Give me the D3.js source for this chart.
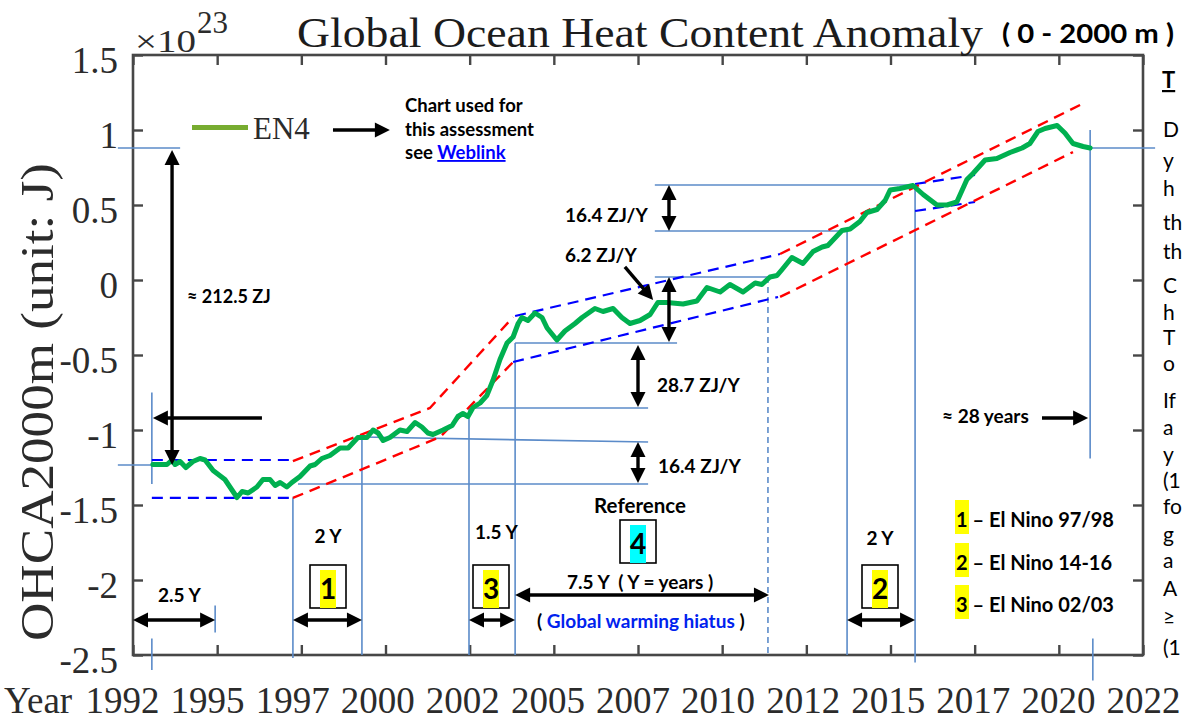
<!DOCTYPE html>
<html>
<head>
<meta charset="utf-8">
<script src="https://cdn.jsdelivr.net/npm/d3@7"></script>
<style>
  html, body { margin: 0; padding: 0; background: #fff; overflow: hidden; }
  svg { display: block; }
</style>
</head>
<body>
<svg id="chart" width="1185" height="722"></svg>
<script>
// EN4 global ocean heat content anomaly, 0-2000 m (units of 1e23 J)
const en4Years = [
  1993.09,1993.51,1993.66,1993.75,1993.90,1994.07,1994.28,1994.49,1994.64,1994.88,
  1995.23,1995.44,1995.59,1995.74,1995.92,1996.18,1996.36,1996.57,1996.72,1996.87,
  1997.07,1997.22,1997.46,1997.76,1997.91,1998.11,1998.35,1998.65,1998.89,1999.18,
  1999.45,1999.63,1999.78,1999.93,2000.13,2000.43,2000.64,2000.88,2001.08,2001.26,
  2001.41,2001.71,2001.98,2002.15,2002.30,2002.45,2002.60,2002.81,2003.01,2003.19,
  2003.40,2003.61,2003.79,2003.94,2004.05,2004.23,2004.44,2004.65,2004.80,2005.09,
  2005.33,2005.63,2005.84,2006.22,2006.46,2006.76,2007.02,2007.26,2007.56,2007.86,
  2008.09,2008.36,2008.84,2009.25,2009.55,2009.94,2010.23,2010.62,2010.98,2011.18,
  2011.42,2011.63,2011.78,2012.07,2012.40,2012.70,2012.97,2013.14,2013.56,2013.80,
  2014.09,2014.30,2014.60,2014.84,2014.99,2015.28,2015.67,2015.97,2016.38,2016.68,
  2016.97,2017.27,2017.45,2017.81,2018.16,2018.55,2018.91,2019.14,2019.38,2019.59,
  2019.95,2020.18,2020.42,2020.72,2020.93
];
const en4Values = [
  -1.23,-1.23,-1.20,-1.23,-1.21,-1.25,-1.21,-1.19,-1.20,-1.27,
  -1.33,-1.40,-1.45,-1.41,-1.42,-1.38,-1.33,-1.33,-1.37,-1.35,
  -1.38,-1.35,-1.31,-1.24,-1.23,-1.19,-1.17,-1.12,-1.12,-1.05,
  -1.05,-1.00,-1.02,-1.07,-1.05,-1.00,-1.01,-0.95,-0.98,-1.02,
  -1.03,-1.00,-0.97,-0.91,-0.89,-0.91,-0.85,-0.82,-0.77,-0.67,
  -0.53,-0.42,-0.38,-0.29,-0.25,-0.27,-0.22,-0.25,-0.32,-0.40,
  -0.34,-0.29,-0.25,-0.19,-0.21,-0.19,-0.25,-0.29,-0.27,-0.23,
  -0.15,-0.15,-0.16,-0.14,-0.05,-0.08,-0.03,-0.08,-0.02,-0.03,
   0.02, 0.03, 0.07, 0.15, 0.11, 0.19, 0.22, 0.23, 0.33, 0.34,
   0.39, 0.45, 0.47, 0.53, 0.60, 0.61, 0.63, 0.57, 0.50, 0.50,
   0.52, 0.67, 0.71, 0.80, 0.81, 0.85, 0.88, 0.91, 0.99, 1.01,
   1.03, 0.98, 0.91, 0.89, 0.88
];

// Axis ticks
const yTickValues = [1.5, 1, 0.5, 0, -0.5, -1, -1.5, -2, -2.5];
const yTickLabels = ["1.5", "1", "0.5", "0", "-0.5", "-1", "-1.5", "-2", "-2.5"];
const xTickValues = [1992.5, 1995, 1997.5, 2000, 2002.5, 2005, 2007.5, 2010, 2012.5, 2015, 2017.5, 2020, 2022.5];
const xTickLabels = ["1992", "1995", "1997", "2000", "2002", "2005", "2007", "2010", "2012", "2015", "2017", "2020", "2022"];

// Reference guides (year, value pairs)
const guideLines = [
  [[1992.05, 0.88], [1993.90, 0.88]],
  [[2020.93, 0.88], [2022.86, 0.88]],
  [[1993.06, -0.75], [1993.06, -1.36]],
  [[1993.06, -2.39], [1993.06, -2.60]],
  [[1992.05, -1.233], [1993.06, -1.233]],
  [[1994.94, -2.17], [1994.94, -2.35]],
  [[1997.25, -1.45], [1997.25, -2.52]],
  [[1997.40, -1.36], [2007.80, -1.36]],
  [[1999.30, -1.047], [1999.30, -2.50]],
  [[1999.30, -1.047], [2007.80, -1.08]],
  [[2002.48, -0.847], [2002.48, -2.50]],
  [[2002.48, -0.853], [2007.80, -0.853]],
  [[2003.85, -0.42], [2003.85, -2.50]],
  [[2003.85, -0.42], [2008.66, -0.42]],
  [[2008.00, 0.02], [2011.36, 0.02]],
  [[2008.00, 0.633], [2015.73, 0.633]],
  [[2008.00, 0.327], [2013.71, 0.327]],
  [[2013.71, 0.327], [2013.71, -2.50]],
  [[2015.73, 0.633], [2015.73, -2.55]],
  [[2020.93, 1.00], [2020.93, -1.19]],
  [[2021.01, -2.39], [2021.01, -2.67]]
];
const guideDashed = [
  [[2011.36, 0.02], [2011.36, -2.50]]
];

// Trend channels
const blueTrends = [
  [[1993.06, -1.20], [1997.25, -1.20]],
  [[1993.06, -1.453], [1997.25, -1.453]],
  [[2003.85, -0.24], [2011.72, 0.173]],
  [[2003.79, -0.547], [2011.66, -0.113]],
  [[2015.73, 0.64], [2017.51, 0.70]],
  [[2015.73, 0.46], [2017.51, 0.52]]
];
const redTrends = [
  [[1997.25, -1.207], [2001.32, -0.853], [2003.79, -0.247]],
  [[2011.72, 0.173], [2020.63, 1.167]],
  [[1997.25, -1.453], [2001.62, -1.047], [2003.79, -0.547]],
  [[2011.72, -0.113], [2020.42, 0.853]]
];

// Arrows: start, end (tip), and whether both ends carry a head
const arrows = [
  { from: [1993.66, 0.867], to: [1993.66, -1.233], both: true },
  { from: [1996.33, -0.92], to: [1993.09, -0.92] },
  { from: [1998.44, 1.00], to: [2000.13, 1.00] },
  { from: [2019.50, -0.92], to: [2020.87, -0.92] },
  { from: [1992.50, -2.267], to: [1994.94, -2.267], both: true },
  { from: [1997.25, -2.267], to: [1999.30, -2.267], both: true },
  { from: [2002.48, -2.267], to: [2003.85, -2.267], both: true },
  { from: [2003.85, -2.10], to: [2011.39, -2.10], both: true },
  { from: [2013.71, -2.267], to: [2015.73, -2.267], both: true },
  { from: [2008.42, 0.633], to: [2008.42, 0.327], both: true },
  { from: [2008.42, 0.02], to: [2008.42, -0.413], both: true },
  { from: [2007.11, 0.087], to: [2007.95, -0.133] },
  { from: [2007.50, -0.433], to: [2007.50, -0.847], both: true },
  { from: [2007.50, -1.08], to: [2007.50, -1.353], both: true }
];

const SERIF = "'Liberation Serif', 'Times New Roman', serif";
const SANS = "Lato, 'Open Sans', sans-serif";
const AXIS = "#474747";
const GUIDE = "#5b8bc9";

const svg = d3.select("#chart");
const x = d3.scaleLinear().domain([1992.5, 2022.5]).range([133, 1143]);
const y = d3.scaleLinear().domain([-2.5, 1.5]).range([655, 55]);
const line = d3.line().x(d => x(d[0])).y(d => y(d[1]));

// ---- axes (ticks point inward on all four sides)
function styleAxis(g) {
  g.select(".domain").remove();
  g.selectAll(".tick line").attr("stroke", AXIS).attr("stroke-width", 2.4);
  g.selectAll(".tick text").attr("fill", "#2b2b2b").attr("font-family", SERIF);
}
svg.append("g").attr("transform", "translate(133,0)")
  .call(d3.axisLeft(y).tickValues(yTickValues).tickFormat((d, i) => yTickLabels[i])
    .tickSizeInner(-10).tickSizeOuter(0).tickPadding(15))
  .call(styleAxis)
  .selectAll(".tick text").attr("font-size", 37).attr("dy", "0.46em");
svg.append("g").attr("transform", "translate(0,655)")
  .call(d3.axisBottom(x).tickValues(xTickValues).tickFormat((d, i) => xTickLabels[i])
    .tickSizeInner(-10).tickSizeOuter(0).tickPadding(32))
  .call(styleAxis)
  .selectAll(".tick text").attr("font-size", 37).attr("dy", "0.71em")
  // the year row is set slightly wider than the tick spacing
  .attr("dx", (d, i) => -11 + i * 0.92);
svg.append("g").attr("transform", "translate(0,55)")
  .call(d3.axisTop(x).tickValues(xTickValues).tickFormat(() => "").tickSizeInner(-10).tickSizeOuter(0))
  .call(styleAxis);
svg.append("g").attr("transform", "translate(1143,0)")
  .call(d3.axisRight(y).tickValues(yTickValues).tickFormat(() => "").tickSizeInner(-10).tickSizeOuter(0))
  .call(styleAxis);
svg.append("rect")
  .attr("x", x(1992.5)).attr("y", y(1.5))
  .attr("width", x(2022.5) - x(1992.5)).attr("height", y(-2.5) - y(1.5))
  .attr("fill", "none").attr("stroke", AXIS).attr("stroke-width", 2.6);

svg.append("text").attr("x", 4).attr("y", 713)
  .attr("font-family", SERIF).attr("font-size", 37).attr("fill", "#2b2b2b").text("Year");

// ---- titles
svg.append("text").attr("x", 297).attr("y", 47)
  .attr("font-family", SERIF).attr("font-size", 43).attr("fill", "#1c1c1c")
  .attr("textLength", 686).attr("lengthAdjust", "spacingAndGlyphs")
  .text("Global Ocean Heat Content Anomaly");
svg.append("text").attr("x", 1002).attr("y", 43)
  .attr("font-family", SANS).attr("font-weight", 700).attr("font-size", 27).attr("fill", "#000")
  .attr("xml:space", "preserve")
  .attr("textLength", 172).attr("lengthAdjust", "spacingAndGlyphs")
  .text("( 0 - 2000 m )");
const mult = svg.append("text").attr("font-family", SERIF).attr("font-size", 31).attr("fill", "#2b2b2b");
mult.append("tspan").attr("x", 135).attr("y", 52)
  .attr("textLength", 61).attr("lengthAdjust", "spacingAndGlyphs").text("\u00d710");
mult.append("tspan").attr("x", 197).attr("y", 33).text("23");
svg.append("text")
  .attr("transform", "translate(53,402) rotate(-90)")
  .attr("text-anchor", "middle")
  .attr("font-family", SERIF).attr("font-size", 46).attr("fill", "#2b2b2b")
  .attr("textLength", 478).attr("lengthAdjust", "spacingAndGlyphs")
  .text("OHCA2000m (unit: J)");

// ---- guides
const gGuides = svg.append("g").attr("fill", "none");
gGuides.selectAll("path.guide").data(guideLines).join("path").attr("class", "guide")
  .attr("d", line).attr("stroke", GUIDE).attr("stroke-width", 1.6);
gGuides.selectAll("path.guide-dash").data(guideDashed).join("path").attr("class", "guide-dash")
  .attr("d", line).attr("stroke", GUIDE).attr("stroke-width", 1.6).attr("stroke-dasharray", "6,4");

// ---- trend channels
const gTrend = svg.append("g").attr("fill", "none");
gTrend.selectAll("path.blue").data(blueTrends).join("path").attr("class", "blue")
  .attr("d", line).attr("stroke", "#0000ff").attr("stroke-width", 2.2).attr("stroke-dasharray", "11,7");
gTrend.selectAll("path.red").data(redTrends).join("path").attr("class", "red")
  .attr("d", line).attr("stroke", "#ff0000").attr("stroke-width", 2.4).attr("stroke-dasharray", "11,7");

// ---- EN4 series
const en4 = en4Years.map((yr, i) => [yr, en4Values[i]]);
svg.append("path").datum(en4)
  .attr("d", line).attr("fill", "none")
  .attr("stroke", "#00b050").attr("stroke-width", 5)
  .attr("stroke-linejoin", "round").attr("stroke-linecap", "round");

// legend
svg.append("line").attr("x1", 192).attr("x2", 248).attr("y1", 127.5).attr("y2", 127.5)
  .attr("stroke", "#77ac30").attr("stroke-width", 5);
svg.append("text").attr("x", 253).attr("y", 139)
  .attr("font-family", SERIF).attr("font-size", 31).attr("fill", "#2b2b2b").text("EN4");

// ---- arrows
const gArrow = svg.append("g");
function head(tx, ty, ux, uy, L, W) {
  const bx = tx - ux * L, by = ty - uy * L;
  return [[tx, ty], [bx - uy * W, by + ux * W], [bx + uy * W, by - ux * W]];
}
arrows.forEach(a => {
  const x1 = x(a.from[0]), y1 = y(a.from[1]), x2 = x(a.to[0]), y2 = y(a.to[1]);
  const len = Math.hypot(x2 - x1, y2 - y1);
  const ux = (x2 - x1) / len, uy = (y2 - y1) / len;
  const L = 15, W = 7.5;
  const sx = a.both ? x1 + ux * L * 0.8 : x1, sy = a.both ? y1 + uy * L * 0.8 : y1;
  gArrow.append("line")
    .attr("x1", sx).attr("y1", sy).attr("x2", x2 - ux * L * 0.8).attr("y2", y2 - uy * L * 0.8)
    .attr("stroke", "#000").attr("stroke-width", 3.4);
  gArrow.append("polygon").attr("points", head(x2, y2, ux, uy, L, W).join(" ")).attr("fill", "#000");
  if (a.both) gArrow.append("polygon").attr("points", head(x1, y1, -ux, -uy, L, W).join(" ")).attr("fill", "#000");
});

// ---- annotation text
function label(t, px, py, opts = {}) {
  return svg.append("text").attr("x", px).attr("y", py)
    .attr("font-family", SANS).attr("font-weight", opts.weight || 700)
    .attr("font-size", opts.size || 19).attr("fill", opts.fill || "#000")
    .attr("text-anchor", opts.anchor || "start").attr("xml:space", "preserve")
    .text(t);
}
label("Chart used for", 405, 112, { size: 18.5 });
label("this assessment", 405, 136, { size: 18.5 });
const see = label("see ", 405, 159, { size: 18.5 });
see.append("tspan").attr("fill", "#0000ff").attr("text-decoration", "underline").text("Weblink");

label("\u2248 212.5 ZJ", 187, 303, { size: 18 });
label("16.4 ZJ/Y", 565, 222);
label("6.2 ZJ/Y", 565, 262);
label("28.7 ZJ/Y", 657, 392);
label("16.4 ZJ/Y", 658, 473);
label("Reference", 640, 513, { anchor: "middle", size: 20.5 });
label("1.5 Y", 475, 539);
label("2 Y", 328, 543, { anchor: "middle" });
label("2 Y", 880, 545, { anchor: "middle" });
label("2.5 Y", 158, 602);
label("7.5 Y  ( Y = years )", 567, 589);
const hiatus = label("( ", 537, 628);
hiatus.append("tspan").attr("fill", "#0022ee").text("Global warming hiatus");
hiatus.append("tspan").text(" )");
label("\u2248 28 years", 942, 423);

// El Nino boxes
const boxes = [
  { n: "1", cx: 328, top: 565, fill: "#ffff00" },
  { n: "3", cx: 491, top: 565, fill: "#ffff00" },
  { n: "2", cx: 880, top: 565, fill: "#ffff00" },
  { n: "4", cx: 638, top: 520, fill: "#00ffff" }
];
boxes.forEach(b => {
  svg.append("rect").attr("x", b.cx - 18).attr("y", b.top).attr("width", 36).attr("height", 43)
    .attr("fill", "#fff").attr("stroke", "#000").attr("stroke-width", 1.6);
  svg.append("rect").attr("x", b.cx - 8).attr("y", b.top + 5).attr("width", 16).attr("height", 38)
    .attr("fill", b.fill);
  label(b.n, b.cx, b.top + 34, { size: 28, anchor: "middle" });
});

// El Nino key
[["1", " \u2013 El Nino 97/98", 527], ["2", " \u2013 El Nino 14-16", 570], ["3", " \u2013 El Nino 02/03", 612]]
  .forEach(([n, t, by]) => {
    svg.append("rect").attr("x", 955).attr("y", by - 27).attr("width", 14).attr("height", 34).attr("fill", "#ffff00");
    const k = label(n, 956, by, { size: 20 });
    k.append("tspan").text(t);
  });

// side notes, running off the right edge of the figure
svg.append("clipPath").attr("id", "sideClip")
  .append("rect").attr("x", 1150).attr("y", 0).attr("width", 33).attr("height", 722);
const side = svg.append("g").attr("clip-path", "url(#sideClip)")
  .attr("font-family", SANS).attr("font-size", 21).attr("fill", "#000");
side.append("text").attr("x", 1162).attr("y", 88).attr("font-weight", 700).attr("font-size", 22)
  .attr("text-decoration", "underline").text("T");
const sideRows = [["D", 137], ["y", 168], ["h", 196], ["th", 230], ["th", 259], ["C", 293], ["h", 320],
  ["T", 345], ["o", 371], ["If", 408], ["a", 435], ["y", 462], ["(1", 488], ["fo", 514], ["g", 542],
  ["a", 568], ["A", 596], ["\u2265", 624], ["(1", 655]];
sideRows.forEach(([t, by]) => side.append("text").attr("x", 1163).attr("y", by).text(t));
</script>
</body>
</html>
